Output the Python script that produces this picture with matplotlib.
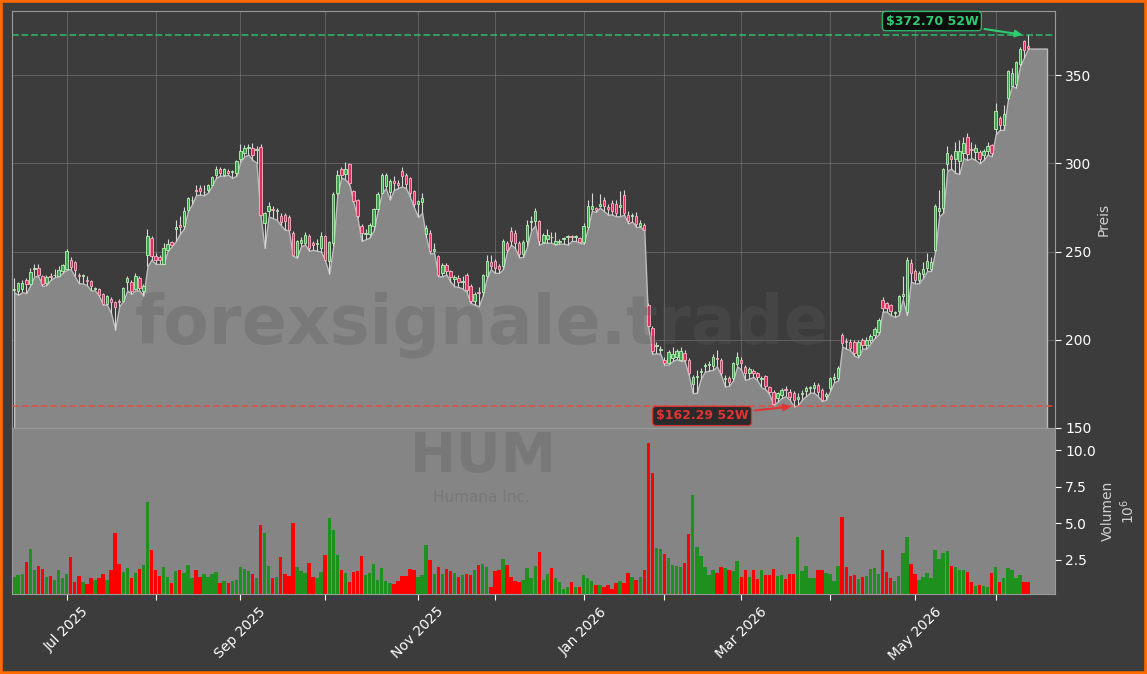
import numpy as np
import pandas as pd
import matplotlib
matplotlib.use("Agg")
import matplotlib.pyplot as plt
from matplotlib.patches import Rectangle
from matplotlib.ticker import FormatStrFormatter

# trading calendar (US market holidays removed)
holidays = ["2025-06-19", "2025-07-04", "2025-09-01", "2025-11-27", "2025-12-25",
            "2026-01-01", "2026-01-19", "2026-02-16", "2026-04-03", "2026-05-25"]
trade_days = pd.bdate_range("2025-06-11", "2026-06-11")
trade_days = trade_days[~trade_days.isin(pd.to_datetime(holidays))]

opens = [
    228.5, 227.5, 228.8, 233.7, 231.8, 240.0, 240.7, 236.0, 232.2, 236.0,
    236.5, 236.3, 238.8, 240.1, 245.0, 243.9, 236.5, 236.0, 233.6, 233.2,
    228.8, 228.8, 225.9, 220.4, 223.1, 221.2, 221.8, 222.1, 233.0, 232.8,
    228.8, 235.0, 227.5, 248.0, 257.8, 247.7, 246.8, 243.0, 251.1, 255.5,
    263.0, 265.0, 264.4, 273.8, 279.0, 284.8, 286.0, 283.5, 285.2, 288.0,
    293.7, 297.0, 293.7, 295.8, 295.0, 294.7, 302.3, 306.0, 308.7, 308.9,
    307.5, 309.5, 266.2, 272.9, 274.2, 273.0, 270.4, 270.9, 269.5, 260.6,
    247.3, 255.0, 254.9, 259.1, 254.9, 254.3, 252.1, 258.7, 244.5, 254.9,
    283.0, 296.6, 294.0, 299.4, 284.3, 279.0, 264.6, 260.2, 260.2, 264.4,
    274.2, 283.4, 287.1, 284.0, 290.0, 289.0, 295.6, 293.7, 291.8, 284.3,
    276.7, 278.0, 259.7, 260.6, 250.4, 247.3, 237.9, 242.6, 238.8, 234.2,
    235.0, 232.8, 236.9, 230.7, 221.8, 227.2, 227.1, 236.0, 244.0, 244.5,
    242.0, 241.7, 254.9, 261.6, 260.6, 254.6, 248.9, 255.9, 267.0, 267.2,
    267.2, 255.3, 257.4, 258.5, 254.5, 255.2, 257.2, 258.3, 258.7, 258.3,
    257.8, 255.3, 263.8, 274.0, 274.5, 276.0, 279.5, 275.0, 277.6, 277.0,
    275.0, 281.8, 271.0, 270.0, 270.4, 264.4, 264.8, 219.9, 206.6, 196.5,
    194.3, 188.6, 186.7, 189.6, 190.5, 188.6, 192.4, 188.6, 175.0, 179.0,
    181.8, 185.0, 185.8, 185.0, 189.6, 188.6, 178.0, 178.2, 178.2, 186.0,
    188.6, 184.8, 181.0, 182.5, 181.4, 178.0, 179.5, 173.1, 170.6, 166.9,
    168.8, 171.7, 170.6, 170.1, 166.5, 169.0, 171.0, 172.5, 172.5, 174.5,
    171.6, 168.0, 172.5, 178.0, 178.2, 202.8, 199.4, 199.0, 199.0, 191.5,
    199.6, 197.2, 200.0, 202.8, 204.7, 222.7, 220.8, 219.9, 215.0, 216.1,
    225.0, 216.0, 243.6, 238.8, 234.1, 237.5, 240.7, 240.0, 251.1, 272.9,
    274.8, 299.6, 304.2, 302.3, 301.3, 306.1, 315.1, 308.0, 306.4, 306.4,
    304.5, 307.0, 310.2, 319.3, 325.9, 321.6, 337.3, 344.0, 345.0, 356.3,
    369.5, 366.5,
]

closes = [
    228.6, 232.2, 232.2, 231.8, 238.2, 240.3, 237.0, 231.8, 235.4, 235.8,
    237.0, 239.4, 242.2, 250.4, 241.0, 239.8, 236.3, 236.2, 233.2, 230.3,
    229.0, 225.6, 220.4, 224.6, 221.4, 218.5, 221.6, 229.3, 235.0, 227.4,
    236.0, 229.3, 230.7, 258.7, 247.7, 245.1, 245.4, 252.0, 254.3, 253.6,
    264.0, 263.8, 273.0, 280.5, 279.5, 284.2, 284.3, 283.8, 287.5, 292.2,
    297.1, 294.3, 296.6, 294.7, 295.2, 301.1, 307.2, 308.9, 308.9, 304.7,
    307.9, 271.0, 271.6, 275.7, 273.6, 273.3, 266.7, 267.2, 262.5, 248.3,
    255.8, 256.8, 259.6, 252.1, 253.6, 254.6, 258.7, 245.4, 255.3, 282.4,
    293.7, 293.4, 296.6, 289.0, 278.9, 270.0, 260.4, 260.5, 265.3, 273.9,
    282.4, 293.7, 293.7, 290.0, 289.0, 288.0, 292.8, 288.1, 283.3, 276.7,
    278.6, 280.5, 263.4, 250.2, 251.5, 237.0, 242.6, 238.8, 235.6, 235.6,
    232.8, 233.2, 228.4, 221.8, 226.1, 226.5, 236.5, 244.9, 242.0, 240.7,
    240.0, 255.9, 251.1, 255.9, 255.0, 248.7, 255.3, 265.3, 267.2, 272.9,
    255.9, 259.6, 259.6, 258.0, 256.2, 255.8, 257.4, 258.5, 258.3, 258.6,
    255.3, 264.4, 275.7, 276.0, 273.5, 277.0, 276.1, 273.9, 272.9, 272.0,
    276.5, 272.0, 267.2, 270.2, 265.7, 266.3, 262.5, 207.6, 193.4, 197.0,
    194.5, 186.7, 192.8, 192.0, 193.4, 193.4, 188.6, 181.0, 179.0, 179.4,
    182.2, 185.2, 186.0, 190.0, 189.0, 181.0, 178.5, 176.3, 186.7, 190.5,
    186.7, 181.0, 183.3, 181.0, 178.8, 178.2, 173.8, 170.6, 163.4, 169.7,
    171.6, 171.5, 167.8, 165.9, 167.5, 170.0, 172.5, 172.8, 174.3, 170.6,
    166.0, 169.0, 178.2, 179.0, 183.9, 198.1, 199.0, 195.3, 192.4, 199.0,
    197.2, 200.0, 201.9, 206.0, 211.4, 218.0, 218.0, 216.1, 215.4, 224.6,
    226.0, 245.0, 237.9, 234.1, 237.9, 240.0, 244.5, 244.0, 275.7, 274.8,
    296.6, 306.0, 302.3, 307.0, 307.0, 311.7, 305.1, 307.5, 308.9, 302.3,
    307.0, 309.8, 306.0, 329.7, 321.6, 328.2, 352.4, 351.5, 357.2, 364.8,
    364.0, 365.5,
]

highs = [
    235.0, 233.0, 234.0, 235.0, 240.5, 243.0, 243.0, 237.0, 236.5, 238.0,
    240.0, 242.0, 243.0, 251.5, 247.0, 244.5, 238.0, 237.5, 236.0, 234.0,
    230.0, 229.5, 226.5, 225.5, 224.0, 222.0, 223.0, 230.0, 236.0, 234.0,
    238.0, 236.0, 231.5, 263.0, 259.0, 249.0, 248.0, 255.0, 257.0, 256.0,
    268.0, 270.0, 275.0, 281.0, 281.5, 287.5, 288.0, 288.0, 288.5, 293.0,
    298.5, 298.0, 297.5, 297.0, 296.5, 302.0, 310.8, 310.5, 311.0, 311.5,
    310.0, 311.0, 272.5, 278.0, 276.0, 274.5, 272.0, 272.0, 270.5, 261.5,
    256.5, 258.0, 261.0, 260.0, 256.0, 257.0, 261.0, 259.5, 256.0, 284.0,
    296.0, 298.0, 300.7, 300.0, 285.0, 280.0, 265.5, 263.0, 266.0, 274.5,
    284.0, 294.5, 294.5, 291.0, 293.0, 290.5, 298.0, 294.5, 292.5, 285.0,
    279.5, 283.0, 265.0, 262.0, 255.0, 248.0, 243.5, 243.5, 239.5, 237.0,
    236.5, 236.0, 238.0, 231.5, 227.0, 230.0, 237.5, 248.0, 248.0, 246.0,
    243.0, 257.0, 256.0, 264.0, 262.0, 256.0, 256.5, 268.0, 270.0, 274.5,
    268.0, 260.5, 263.0, 261.0, 261.0, 257.0, 258.5, 259.5, 259.5, 259.5,
    258.5, 266.0, 279.0, 283.3, 275.0, 282.4, 281.0, 277.0, 279.0, 279.5,
    284.3, 285.0, 273.0, 272.0, 272.5, 268.0, 266.0, 221.0, 208.0, 199.0,
    196.5, 190.0, 194.0, 196.0, 195.0, 196.0, 194.0, 189.5, 180.0, 183.0,
    184.0, 187.0, 188.0, 192.0, 194.0, 189.5, 180.0, 179.5, 187.5, 193.0,
    190.0, 185.5, 184.5, 183.5, 182.0, 179.5, 180.0, 174.0, 171.5, 170.5,
    172.5, 174.0, 172.0, 171.0, 170.0, 171.5, 174.0, 174.0, 176.0, 175.5,
    172.5, 170.5, 179.0, 181.0, 185.0, 204.0, 201.0, 200.5, 200.0, 200.0,
    201.0, 201.5, 203.0, 207.0, 212.5, 224.0, 221.5, 220.5, 216.5, 225.5,
    236.0, 247.0, 246.0, 240.0, 239.0, 244.0, 249.0, 247.0, 277.0, 285.0,
    297.5, 310.0, 305.5, 312.0, 313.0, 315.0, 317.0, 312.0, 311.0, 307.5,
    308.0, 312.0, 311.0, 334.0, 327.0, 333.0, 353.0, 354.0, 358.0, 366.0,
    370.0, 372.7,
]

lows = [
    227.0, 225.5, 227.0, 226.5, 231.0, 236.0, 236.0, 230.5, 231.0, 234.0,
    235.5, 236.0, 238.0, 239.8, 240.0, 236.0, 232.0, 232.0, 231.0, 228.0,
    228.0, 225.0, 220.0, 219.8, 215.0, 205.7, 219.0, 222.0, 228.0, 226.0,
    228.0, 228.0, 225.0, 241.6, 245.5, 243.0, 243.0, 243.0, 250.5, 253.0,
    255.8, 260.0, 263.0, 273.0, 276.7, 282.0, 282.3, 282.0, 283.5, 287.6,
    292.0, 293.0, 293.0, 293.5, 291.8, 293.0, 301.0, 304.0, 305.0, 302.0,
    300.4, 270.0, 252.1, 270.0, 269.0, 268.0, 265.0, 262.5, 262.0, 247.7,
    246.6, 253.0, 254.0, 250.5, 251.0, 250.5, 250.0, 244.8, 237.5, 253.0,
    282.0, 292.0, 290.9, 288.0, 278.0, 269.0, 256.0, 257.0, 258.0, 262.0,
    273.0, 283.0, 286.0, 279.5, 285.0, 286.0, 287.0, 286.0, 281.0, 275.0,
    269.7, 272.0, 258.0, 249.0, 249.0, 236.0, 236.0, 237.0, 233.0, 230.3,
    230.0, 229.0, 227.0, 220.9, 220.0, 219.0, 225.0, 235.0, 240.0, 238.0,
    237.9, 240.0, 250.0, 254.0, 252.0, 246.7, 247.0, 253.0, 262.0, 265.0,
    254.0, 255.0, 255.0, 255.0, 254.0, 254.5, 254.5, 254.0, 256.0, 256.0,
    255.0, 254.5, 263.0, 273.0, 272.5, 275.0, 273.0, 271.0, 271.0, 270.0,
    270.0, 271.0, 266.0, 267.0, 264.0, 264.0, 262.0, 207.0, 192.0, 192.4,
    192.0, 185.8, 186.0, 188.0, 189.0, 188.0, 188.0, 180.0, 169.7, 170.0,
    178.0, 182.0, 182.5, 183.0, 185.0, 180.0, 173.5, 174.0, 177.0, 185.0,
    183.0, 177.3, 178.0, 179.0, 177.0, 173.0, 172.0, 169.0, 163.0, 165.0,
    167.0, 168.0, 166.0, 162.29, 162.8, 166.0, 168.0, 170.0, 170.0, 168.0,
    165.3, 166.0, 171.0, 176.0, 177.0, 196.2, 195.0, 194.0, 191.0, 190.0,
    195.0, 195.0, 198.0, 201.0, 203.0, 216.0, 216.0, 214.0, 213.0, 214.0,
    223.0, 214.0, 233.0, 232.0, 232.0, 235.0, 239.0, 239.0, 250.0, 270.0,
    272.0, 296.0, 297.0, 294.7, 294.0, 303.0, 302.0, 303.0, 302.0, 300.0,
    302.0, 305.0, 304.0, 316.5, 319.0, 319.0, 336.0, 343.9, 343.0, 355.0,
    360.0, 365.1,
]

# volume in millions of shares
volumes = [
    1.35, 1.47, 1.54, 2.36, 3.26, 1.77, 2.11, 1.90, 1.35, 1.40,
    1.12, 1.81, 1.28, 1.54, 2.66, 0.99, 1.40, 0.99, 0.85, 1.26,
    1.12, 1.26, 1.54, 1.12, 1.81, 4.36, 2.22, 1.68, 1.95, 1.26,
    1.58, 1.86, 2.16, 6.49, 3.19, 1.81, 1.40, 2.04, 1.31, 0.92,
    1.72, 1.81, 1.58, 2.13, 1.22, 1.81, 1.35, 1.54, 1.31, 1.54,
    1.65, 0.94, 1.06, 0.94, 1.08, 1.12, 2.02, 1.86, 1.72, 1.54,
    1.22, 4.91, 4.36, 2.09, 1.22, 1.35, 2.71, 1.54, 1.40, 5.05,
    2.02, 1.70, 1.63, 2.29, 1.35, 1.26, 1.68, 2.84, 5.39, 4.56,
    2.84, 1.81, 1.61, 0.99, 1.68, 1.74, 2.78, 1.47, 1.58, 2.22,
    1.12, 1.96, 1.06, 0.90, 0.85, 1.06, 1.40, 1.40, 1.86, 1.81,
    1.35, 1.45, 3.51, 2.50, 1.54, 2.04, 1.54, 1.90, 1.70, 1.58,
    1.35, 1.47, 1.54, 1.47, 1.81, 2.16, 2.22, 2.04, 0.67, 1.70,
    1.77, 2.55, 2.13, 1.35, 1.06, 1.01, 1.12, 1.93, 1.24, 2.09,
    3.03, 1.12, 1.51, 1.93, 1.22, 0.99, 0.49, 0.62, 0.99, 0.62,
    0.62, 1.45, 1.28, 1.06, 0.76, 0.76, 0.67, 0.78, 0.49, 0.94,
    1.03, 0.90, 1.58, 1.31, 1.12, 1.35, 1.77, 10.53, 8.42, 3.30,
    3.23, 2.89, 2.61, 2.16, 2.09, 2.04, 2.27, 4.27, 6.97, 3.37,
    2.78, 2.04, 1.47, 1.77, 1.58, 2.04, 1.97, 1.77, 1.70, 2.43,
    1.31, 1.77, 1.35, 1.81, 1.17, 1.77, 1.47, 1.47, 1.86, 1.40,
    1.47, 1.17, 1.54, 1.54, 4.06, 1.74, 2.09, 1.24, 1.24, 1.77,
    1.81, 1.58, 1.54, 1.06, 2.09, 5.44, 2.04, 1.40, 1.47, 1.17,
    1.31, 1.40, 1.86, 1.93, 1.54, 3.14, 1.68, 1.24, 1.06, 1.40,
    2.96, 4.06, 2.22, 1.54, 1.12, 1.31, 1.58, 1.24, 3.19, 2.55,
    2.96, 3.08, 2.09, 2.00, 1.81, 1.81, 1.68, 0.99, 0.71, 0.78,
    0.71, 0.67, 1.58, 2.04, 0.99, 1.22, 1.93, 1.81, 1.22, 1.45,
    0.99, 0.99,
]

o = np.array(opens)
c = np.array(closes)
hi = np.array(highs)
lo = np.array(lows)
vol = np.array(volumes)
n = len(c)
x = np.arange(n)
up = c >= o

bg = "#3c3c3c"
fig = plt.figure(figsize=(11.47, 6.74), dpi=100, facecolor=bg)
ax = fig.add_axes([0.0107, 0.365, 0.9088, 0.6187])
axv = fig.add_axes([0.0107, 0.1183, 0.9088, 0.2467], sharex=ax)
ax.set_facecolor(bg)
axv.set_facecolor("#858585")

# area under the lows, carried a few bars past the last candle
ax.fill_between(np.append(x, x[-1] + 4.7), np.append(lo, lo[-1]), 0,
                facecolor="#878787", edgecolor="#bdbdbd", lw=1, zorder=1)

# candles
body_lo = np.minimum(o, c)
body_h = np.maximum(np.abs(c - o), 0.5)
ax.vlines(x, lo, hi, color="#d8d8d8", lw=0.8, zorder=3)
ax.bar(x[up], body_h[up], 0.6, bottom=body_lo[up], color="#3fa34d",
       edgecolor="#b8f5b8", lw=0.6, zorder=4)
ax.bar(x[~up], body_h[~up], 0.6, bottom=body_lo[~up], color="#e03060",
       edgecolor="#ffb3c6", lw=0.6, zorder=4)

# 52 week high / low
i_hi = int(np.argmax(hi))
i_lo = int(np.argmin(lo))
ax.axhline(hi[i_hi], color="#2ecc71", ls="--", lw=1.3, alpha=0.75, zorder=2)
ax.axhline(lo[i_lo], color="#e74c3c", ls="--", lw=1.3, alpha=0.8, zorder=2)
ax.annotate(r"\$%.2f 52W" % hi[i_hi], xy=(i_hi - 0.7, hi[i_hi]), xytext=(227.2, 380.7),
            ha="center", va="center", fontsize=9, fontweight="bold", color="#2ecc71",
            bbox=dict(boxstyle="round,pad=0.25", fc="#050505", ec="#2ecc71", alpha=0.85),
            arrowprops=dict(arrowstyle="-|>", color="#2ecc71", lw=1.5, mutation_scale=10),
            zorder=6)
ax.annotate(r"\$%.2f 52W" % lo[i_lo], xy=(i_lo, lo[i_lo]), xytext=(170.3, 156.8),
            ha="center", va="center", fontsize=9, fontweight="bold", color="#e03535",
            bbox=dict(boxstyle="round,pad=0.25", fc="#1a1a1a", ec="#e03535", alpha=0.85),
            arrowprops=dict(arrowstyle="-|>", color="#e03535", lw=1.5, mutation_scale=10),
            zorder=6)

# volume
axv.bar(x, vol, 0.85, color=np.where(up, "#1e901e", "#ff0000"), lw=0)

# axes cosmetics
ax.set_xlim(-0.47, 257.6)
ax.set_ylim(150, 386.4)
ax.set_yticks([150, 200, 250, 300, 350])
axv.set_ylim(0.14, 11.53)
axv.set_yticks([2.5, 5.0, 7.5, 10.0])
axv.yaxis.set_major_formatter(FormatStrFormatter("%.1f"))

month_idx = [i for i in range(1, n) if trade_days[i].month != trade_days[i - 1].month]
month_lbl = [trade_days[i].strftime("%b %Y") if trade_days[i].month % 2 == 1 else ""
             for i in month_idx]
axv.set_xticks(month_idx)
axv.set_xticklabels(month_lbl, rotation=45)

for a in (ax, axv):
    a.yaxis.tick_right()
    a.yaxis.set_label_position("right")
    a.tick_params(colors="white", labelsize=10, length=4)
    for s in a.spines.values():
        s.set_color("#9a9a9a")
ax.tick_params(axis="x", labelbottom=False, length=0)

ax.set_axisbelow(True)
ax.grid(True, color="#8a8a8a", alpha=0.45, lw=0.8)

ax.set_ylabel("Preis", color="#d0d0d0", fontsize=10)
axv.set_ylabel("Volumen\n$10^6$", color="#d0d0d0", fontsize=10)

# watermark
fig.text(0.42, 0.518, "forexsignale.trade", fontsize=48, fontweight="bold",
         color="#5a5a5a", alpha=0.3, ha="center", va="center")
fig.text(0.421, 0.322, "HUM", fontsize=40, fontweight="bold",
         color="#5a5a5a", alpha=0.3, ha="center", va="center")
fig.text(0.42, 0.262, "Humana Inc.", fontsize=11,
         color="#5a5a5a", alpha=0.3, ha="center", va="center")

fig.patches.append(Rectangle((0, 0), 1, 1, transform=fig.transFigure, fill=False,
                             edgecolor="#ff6a00", lw=4))

fig.savefig("out.png", dpi=100, facecolor=fig.get_facecolor())
